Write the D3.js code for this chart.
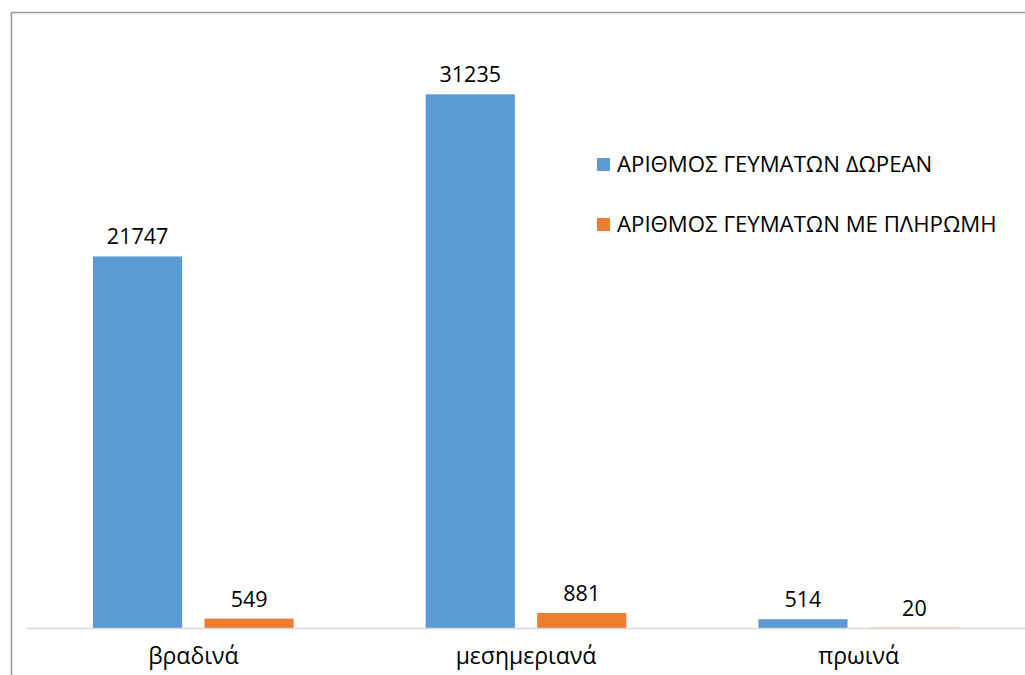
<!DOCTYPE html>
<html><head><meta charset="utf-8">
<script src="https://cdn.jsdelivr.net/npm/d3@7"></script>
<style>body{margin:0;background:#fff;}svg{display:block;}</style>
</head><body><svg id="c" width="1025" height="675"></svg>
<script>
const categories = ["βραδινά", "μεσημεριανά", "πρωινά"];
const seriesNames = ["ΑΡΙΘΜΟΣ ΓΕΥΜΑΤΩΝ ΔΩΡΕΑΝ", "ΑΡΙΘΜΟΣ ΓΕΥΜΑΤΩΝ ΜΕ ΠΛΗΡΩΜΗ"];
const freeMeals = [21747, 31235, 514];
const paidMeals = [549, 881, 20];
const colors = ["#5b9bd5", "#ed7d31"];

const svg = d3.select("#c");
const font = "'Open Sans', sans-serif";
svg.append("rect").attr("x", 11.5).attr("y", 12.5).attr("width", 1030).attr("height", 700)
  .attr("fill", "#fff").attr("stroke", "#999").attr("stroke-width", 1.5);

const x0 = d3.scaleBand().domain(categories).range([27, 1025]).paddingInner(0).paddingOuter(0);
const x1 = d3.scaleBand().domain(seriesNames).range([66, x0.bandwidth() - 66]).paddingInner(0.2);
const y = d3.scaleLinear().domain([0, 35000]).range([628, 30]);

const data = categories.map((c, i) => ({cat: c, vals: [freeMeals[i], paidMeals[i]]}));

const g = svg.append("g");
const groups = g.selectAll("g.grp").data(data).join("g").attr("transform", d => `translate(${x0(d.cat)},0)`);
groups.selectAll("rect").data(d => d.vals.map((v, j) => ({v, s: seriesNames[j], j})))
  .join("rect")
  .attr("x", d => x1(d.s)).attr("width", x1.bandwidth())
  .attr("y", d => y(d.v)).attr("height", d => y(0) - y(d.v))
  .attr("fill", d => colors[d.j]);
groups.selectAll("text").data(d => d.vals.map((v, j) => ({v, s: seriesNames[j]})))
  .join("text")
  .attr("x", d => x1(d.s) + x1.bandwidth() / 2).attr("y", d => y(d.v) - 12)
  .attr("text-anchor", "middle").attr("font-family", font).attr("font-size", 21.5).attr("fill", "#000")
  .text(d => d.v);

// baseline
svg.append("line").attr("x1", 27).attr("x2", 1025).attr("y1", y(0) + 0.5).attr("y2", y(0) + 0.5)
  .attr("stroke", "#d9d9d9").attr("stroke-width", 1.5);

// x axis labels
const xAxis = d3.axisBottom(x0).tickSize(0).tickPadding(20);
const ax = svg.append("g").attr("transform", `translate(0,${y(0)})`).call(xAxis);
ax.select(".domain").remove();
ax.selectAll("text").attr("font-family", font).attr("font-size", 23).attr("fill", "#000");

// legend
const leg = svg.append("g").attr("transform", "translate(597,158)");
const li = leg.selectAll("g").data(seriesNames).join("g").attr("transform", (d, i) => `translate(0,${i * 60})`);
li.append("rect").attr("width", 13).attr("height", 13).attr("fill", (d, i) => colors[i]);
li.append("text").attr("x", 20).attr("y", 14).attr("font-family", font).attr("font-size", 22.2).attr("fill", "#000").text(d => d);
</script></body></html>
